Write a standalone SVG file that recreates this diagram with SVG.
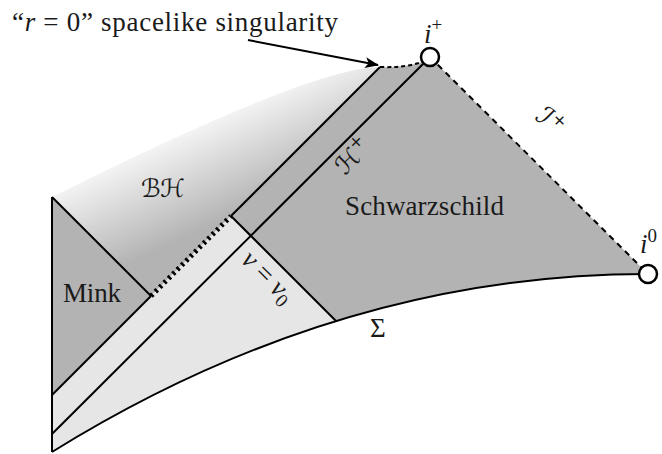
<svg xmlns="http://www.w3.org/2000/svg" width="662" height="454" viewBox="0 0 662 454">
<defs>
  <linearGradient id="bhg" gradientUnits="userSpaceOnUse" x1="195" y1="110" x2="242" y2="211">
    <stop offset="0" stop-color="#ffffff"/>
    <stop offset="1" stop-color="#b3b3b3"/>
  </linearGradient>
  <marker id="arr" markerWidth="16" markerHeight="12" refX="13" refY="6" orient="auto" markerUnits="userSpaceOnUse">
    <path d="M0,0.5 L14,6 L0,11.5 L3.5,6 Z" fill="#000"/>
  </marker>
</defs>
<style>
  .ln{fill:none;stroke:#000;stroke-width:2;stroke-linejoin:round}
  .dash{fill:none;stroke:#000;stroke-width:2;stroke-dasharray:6,5}
  .dot{fill:none;stroke:#000;stroke-width:2;stroke-dasharray:4,3}
  .tick{fill:none;stroke:#000;stroke-width:5;stroke-dasharray:2.6,3.6}
  .dark{fill:#b3b3b3;stroke:none}
  .light{fill:#e6e6e6;stroke:none}
  .pt{fill:#fff;stroke:#000;stroke-width:2.5}
  .t{font-family:"Liberation Serif","DejaVu Serif",serif;font-size:27px;fill:#1a1a1a}
  .cal{font-family:"DejaVu Sans","DejaVu Serif",sans-serif;fill:#1a1a1a}
</style>

<g id="region-bh">
  <path d="M52,197 Q312,67 380,67 L151,296 Z" fill="url(#bhg)"/>
  <text class="cal" x="141" y="197" font-size="25" textLength="44">ℬℋ</text>
</g>
<g id="region-mink">
  <path class="dark" d="M52,197 L151,296 L52,395 Z"/>
  <text class="t" x="63" y="302" textLength="58">Mink</text>
</g>
<g id="region-light">
  <path class="light" d="M52,395 L231,216 L336,321 Q191.5,365.5 52,452 Z"/>
</g>
<g id="region-schwarzschild">
  <path class="dark" d="M380,67 Q404,68 422,62 L430,57 L648,274 Q489.2,274 336,321 L231,216 Z"/>
  <text class="t" x="345" y="215" textLength="159">Schwarzschild</text>
</g>

<g id="connectors">
  <line class="ln" x1="52" y1="197" x2="52" y2="452"/>
  <line class="ln" x1="52" y1="197" x2="151" y2="296"/>
  <line class="ln" x1="52" y1="395" x2="151" y2="296"/>
  <line class="tick" x1="151" y1="296" x2="231" y2="216"/>
  <line class="ln" x1="231" y1="216" x2="380" y2="67"/>
  <line class="ln" x1="52" y1="434" x2="430" y2="57"/>
  <line class="ln" x1="231" y1="216" x2="336" y2="321"/>
  <path class="ln" d="M52,452 Q339,274 648,274"/>
  <path class="dot" d="M380,67 Q404,68 422,62"/>
  <line class="dash" x1="430" y1="57" x2="648" y2="274"/>
  <line class="ln" x1="248" y1="40" x2="378" y2="65" marker-end="url(#arr)"/>
</g>

<g id="label-singularity">
  <text class="t" x="12" y="31" textLength="326">“<tspan font-style="italic">r</tspan> = 0” spacelike singularity</text>
</g>
<g id="label-horizon">
  <text class="cal" font-size="25" transform="translate(345,176) rotate(-45)">ℋ<tspan font-size="17" dy="-11">+</tspan></text>
</g>
<g id="label-scri">
  <text class="cal" font-size="27" transform="translate(534,118) rotate(45)">ℐ<tspan font-size="17" dy="-11">+</tspan></text>
</g>
<g id="label-v0">
  <text class="t" transform="translate(240,261) rotate(45)"><tspan font-style="italic">v</tspan> = <tspan font-style="italic">v</tspan><tspan font-size="19" dy="5">0</tspan></text>
</g>
<g id="label-sigma">
  <text class="t" x="370" y="337">Σ</text>
</g>
<g id="node-iplus">
  <circle class="pt" cx="430" cy="57" r="9"/>
  <text class="t" font-style="italic" x="424" y="43">i<tspan font-size="19" font-style="normal" dy="-12">+</tspan></text>
</g>
<g id="node-i0">
  <circle class="pt" cx="648" cy="274" r="9"/>
  <text class="t" font-style="italic" x="640" y="253">i<tspan font-size="19" font-style="normal" dy="-11">0</tspan></text>
</g>
</svg>
